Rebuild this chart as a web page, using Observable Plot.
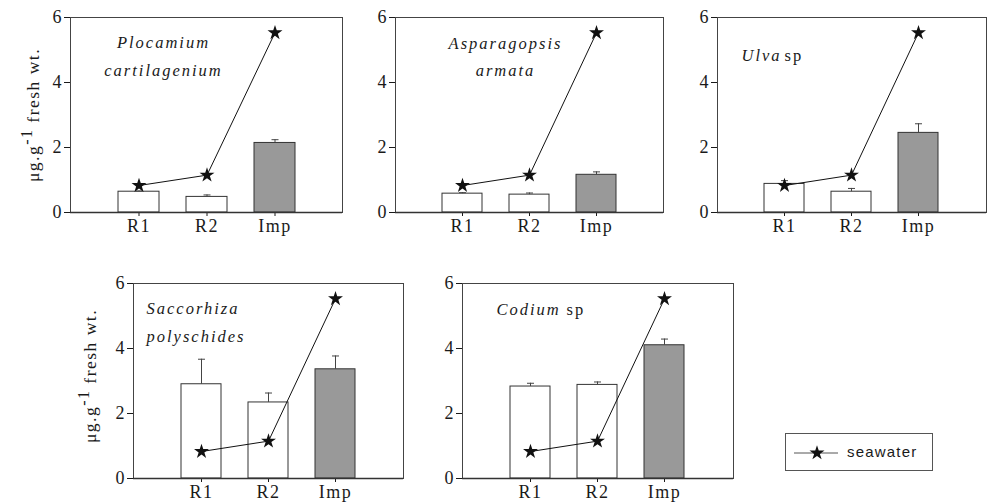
<!DOCTYPE html>
<html>
<head>
<meta charset="utf-8">
<script src="https://cdn.jsdelivr.net/npm/d3@7"></script>
<script src="https://cdn.jsdelivr.net/npm/@observablehq/plot@0.6"></script>
<style>
  html, body { margin: 0; padding: 0; background: #fff; }
  #wrap { position: relative; width: 988px; height: 504px; overflow: hidden; }
  .panel { position: absolute; }
  .panel text.species { letter-spacing: 2px; }
  .panel g[aria-label="x-axis tick label"] text { letter-spacing: 1.5px; }
  .ylab { position: absolute; white-space: nowrap; font-family: "Liberation Serif", serif; font-size: 17.5px; letter-spacing: 1.5px; color: #1a1a1a; transform: translate(-50%, -50%) rotate(-90deg); }
  .ylab sup { font-size: 16px; vertical-align: 0; position: relative; top: -7px; }
  #legend { position: absolute; left: 785px; top: 433px; width: 146px; height: 36px; border: 1px solid #555; background: #fff; }
  #legend svg { position: absolute; left: 0; top: 0; }
  #legend span { position: absolute; left: 61px; top: 9px; font-family: "Liberation Sans", Arial, sans-serif; font-size: 15px; letter-spacing: 1.2px; color: #1a1a1a; }
</style>
</head>
<body>
<div id="wrap"></div>
<script>
// ---------- data ----------
const categories = ["R1", "R2", "Imp"];
const yTicks = [0, 2, 4, 6];
const seawater = [0.83, 1.15, 5.53];

const plocamiumMean = [0.64, 0.48, 2.14];
const plocamiumErr  = [0.02, 0.06, 0.10];
const asparagopsisMean = [0.58, 0.55, 1.16];
const asparagopsisErr  = [0.03, 0.05, 0.09];
const ulvaMean = [0.88, 0.64, 2.45];
const ulvaErr  = [0.10, 0.10, 0.28];
const saccorhizaMean = [2.90, 2.34, 3.36];
const saccorhizaErr  = [0.77, 0.29, 0.41];
const codiumMean = [2.83, 2.88, 4.10];
const codiumErr  = [0.10, 0.09, 0.19];

const speciesNames = [
  ["Plocamium", "cartilagenium"],
  ["Asparagopsis", "armata"],
  ["Ulva"],
  ["Saccorhiza", "polyschides"],
  ["Codium"]
];
const speciesSuffix = "sp";
const legendLabel = "seawater";
const yLabelMain = "μg.g";
const yLabelSup = "-1";
const yLabelRest = " fresh wt.";

// ---------- layout ----------
// baseline offsets (px below frame top) for each text line
const panels = [
  {mean: plocamiumMean, err: plocamiumErr, name: speciesNames[0], L: 70,  R: 342, T: 17,  B: 212,
   label: {dx: 93, base: [30, 58], anchor: "middle"}},
  {mean: asparagopsisMean, err: asparagopsisErr, name: speciesNames[1], L: 395, R: 663, T: 17, B: 212,
   label: {dx: 110, base: [31, 58], anchor: "middle"}},
  {mean: ulvaMean, err: ulvaErr, name: speciesNames[2], L: 717, R: 986, T: 17, B: 212,
   label: {dx: 24, base: [43], anchor: "start", sp: 67}},
  {mean: saccorhizaMean, err: saccorhizaErr, name: speciesNames[3], L: 133, R: 403, T: 283, B: 478,
   label: {dx: 13, base: [30, 58], anchor: "start"}},
  {mean: codiumMean, err: codiumErr, name: speciesNames[4], L: 462, R: 733, T: 283, B: 478,
   label: {dx: 34, base: [31], anchor: "start", sp: 104}}
];

const capSymbol = {
  draw(context, size) {
    const w = Math.sqrt(size / Math.PI);
    context.moveTo(-w, 0);
    context.lineTo(w, 0);
  }
};

const wrap = document.getElementById("wrap");
const mL = 45, mR = 5, mT = 10, mB = 35;
const FS = 16.5;

panels.forEach((p) => {
  const rows = categories.map((c, i) => ({cat: c, v: p.mean[i], e: p.err[i], s: seawater[i]}));
  const marks = [
    Plot.barY(rows, {x: "cat", y: "v", fill: d => d.cat === "Imp" ? "#999999" : "#ffffff", stroke: "#333", strokeWidth: 1}),
    Plot.ruleX(rows, {x: "cat", y1: "v", y2: d => d.v + d.e, stroke: "#444", strokeWidth: 1}),
    Plot.dot(rows, {x: "cat", y: d => d.v + d.e, symbol: capSymbol, r: 3.5, stroke: "#444", strokeWidth: 1, fill: "none"}),
    Plot.line(rows, {x: "cat", y: "s", stroke: "#111", strokeWidth: 1}),
    Plot.dot(rows, {x: "cat", y: "s", symbol: "star", r: 4.7, fill: "#111", stroke: "none"}),
    Plot.frame({stroke: "#444", strokeWidth: 1}),
    Plot.ruleY([0], {stroke: "#333", strokeWidth: 1.3})
  ];
  p.name.forEach((line, k) => {
    marks.push(Plot.text([line], {
      frameAnchor: "top-left", dx: p.label.dx, dy: p.label.base[k], lineAnchor: "bottom",
      textAnchor: p.label.anchor, fontStyle: "italic", fontSize: FS, fontFamily: "Liberation Serif",
      fill: "#1a1a1a", className: "species"
    }));
  });
  if (p.label.sp) {
    marks.push(Plot.text([speciesSuffix], {
      frameAnchor: "top-left", dx: p.label.sp, dy: p.label.base[0], lineAnchor: "bottom",
      textAnchor: "start", fontSize: FS, fontFamily: "Liberation Serif", fill: "#1a1a1a", className: "species"
    }));
  }
  const chart = Plot.plot({
    width: (p.R - p.L) + mL + mR,
    height: (p.B - p.T) + mT + mB,
    marginLeft: mL, marginRight: mR, marginTop: mT, marginBottom: mB,
    style: {fontFamily: "Liberation Serif, serif", fontSize: "18px", color: "#1a1a1a", background: "transparent", overflow: "visible"},
    x: {type: "band", domain: categories, paddingInner: 0.4, paddingOuter: 0.7, label: null, tickSize: 4, tickPadding: 3},
    y: {domain: [0, 6], ticks: yTicks, tickFormat: d3.format("d"), label: null, tickSize: 6, tickPadding: 3},
    marks
  });
  chart.classList.add("panel");
  chart.style.left = (p.L - mL) + "px";
  chart.style.top = (p.T - mT) + "px";
  d3.select(chart).selectAll("text").filter(function () {
    const t = this.textContent;
    return speciesNames.flat().includes(t) || t === speciesSuffix;
  }).classed("species", true);
  wrap.appendChild(chart);
});

// y-axis labels
[[33, 115], [90, 376]].forEach(([cx, cy]) => {
  const d = document.createElement("div");
  d.className = "ylab";
  d.style.left = cx + "px";
  d.style.top = cy + "px";
  d.appendChild(document.createTextNode(yLabelMain));
  const s = document.createElement("sup");
  s.textContent = yLabelSup;
  d.appendChild(s);
  d.appendChild(document.createTextNode(yLabelRest));
  wrap.appendChild(d);
});

// legend
const leg = document.createElement("div");
leg.id = "legend";
const ls = d3.create("svg").attr("width", 60).attr("height", 36);
ls.append("line").attr("x1", 8).attr("x2", 52).attr("y1", 19).attr("y2", 19).attr("stroke", "#555").attr("stroke-width", 1);
ls.append("path").attr("d", d3.symbol(d3.symbolStar, Math.PI * 4.7 * 4.7)()).attr("transform", "translate(31,19)").attr("fill", "#111");
leg.appendChild(ls.node());
const lt = document.createElement("span");
lt.textContent = legendLabel;
leg.appendChild(lt);
wrap.appendChild(leg);
</script>
</body>
</html>
